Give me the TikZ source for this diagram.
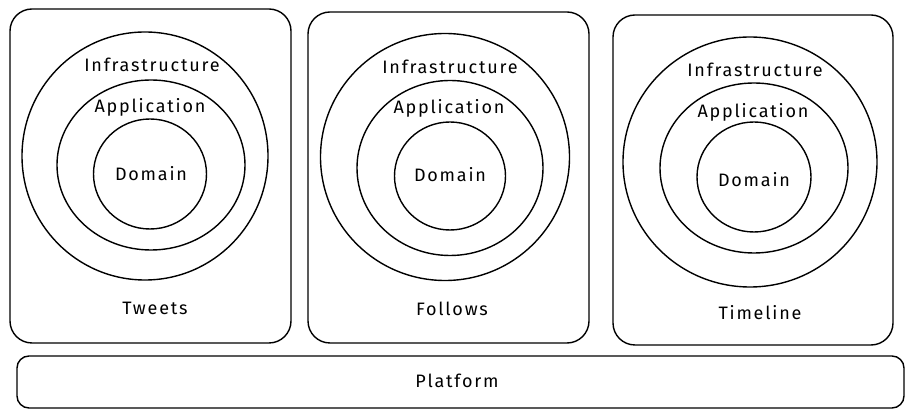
\documentclass[tikz,border=0pt]{standalone}
\usepackage{fontspec}
\setmainfont[LetterSpace=10]{Fira Sans}
\usetikzlibrary{shapes.geometric}
\tikzset{
  context/.style={draw, line width=1.4pt, rounded corners=22pt, inner sep=0pt},
  layer/.style={draw, ellipse, line width=1.4pt, inner sep=0pt},
  label/.style={font=\fontsize{18}{21}\selectfont},
}
\begin{document}
\begin{tikzpicture}[x=1pt, y=-1pt]
		\useasboundingbox (0,0) rectangle (914,419);

		% Tweets context
		\node[context, minimum width=281pt, minimum height=334pt] (tweets) at (150.5,176) {};
		\node[layer, minimum width=246pt, minimum height=248pt] (tweetsinfra) at (145,156) {};
		\node[layer, minimum width=188pt, minimum height=170pt] (tweetsapp) at (151,165) {};
		\node[layer, minimum width=113pt, minimum height=110pt] (tweetsdomain) at (150,174) {};
		\node[label] (tweetsinfratext) at (152,65) {Infrastructure};
		\node[label] (tweetsapptext) at (150,107) {Application};
		\node[label] (tweetsdomaintext) at (151,174) {Domain};
		\node[label] (tweetstext) at (155,308) {Tweets};

		% Follows context
		\node[context, minimum width=281pt, minimum height=331pt] (follows) at (448.5,177.5) {};
		\node[layer, minimum width=249pt, minimum height=247pt] (followsinfra) at (445,157) {};
		\node[layer, minimum width=186pt, minimum height=175pt] (followsapp) at (450,168) {};
		\node[layer, minimum width=111pt, minimum height=108pt] (followsdomain) at (450,176) {};
		\node[label] (followsinfratext) at (450,67) {Infrastructure};
		\node[label] (followsapptext) at (449,108) {Application};
		\node[label] (followsdomaintext) at (450,175) {Domain};
		\node[label] (followstext) at (452,309) {Follows};

		% Timeline context
		\node[context, minimum width=280pt, minimum height=330pt] (timeline) at (753,180) {};
		\node[layer, minimum width=254pt, minimum height=250pt] (timelineinfra) at (750,162) {};
		\node[layer, minimum width=188pt, minimum height=170pt] (timelineapp) at (754,168) {};
		\node[layer, minimum width=114pt, minimum height=110pt] (timelinedomain) at (754,177) {};
		\node[label] (timelineinfratext) at (755,70) {Infrastructure};
		\node[label] (timelineapptext) at (753,112) {Application};
		\node[label] (timelinedomaintext) at (754,180) {Domain};
		\node[label] (timelinetext) at (760,313) {Timeline};

		% Platform
		\node[context, rounded corners=12pt, minimum width=887pt, minimum height=52pt] (platform) at (460.5,382) {};
		\node[label] (platformtext) at (457,381) {Platform};
	\end{tikzpicture}
\end{document}
